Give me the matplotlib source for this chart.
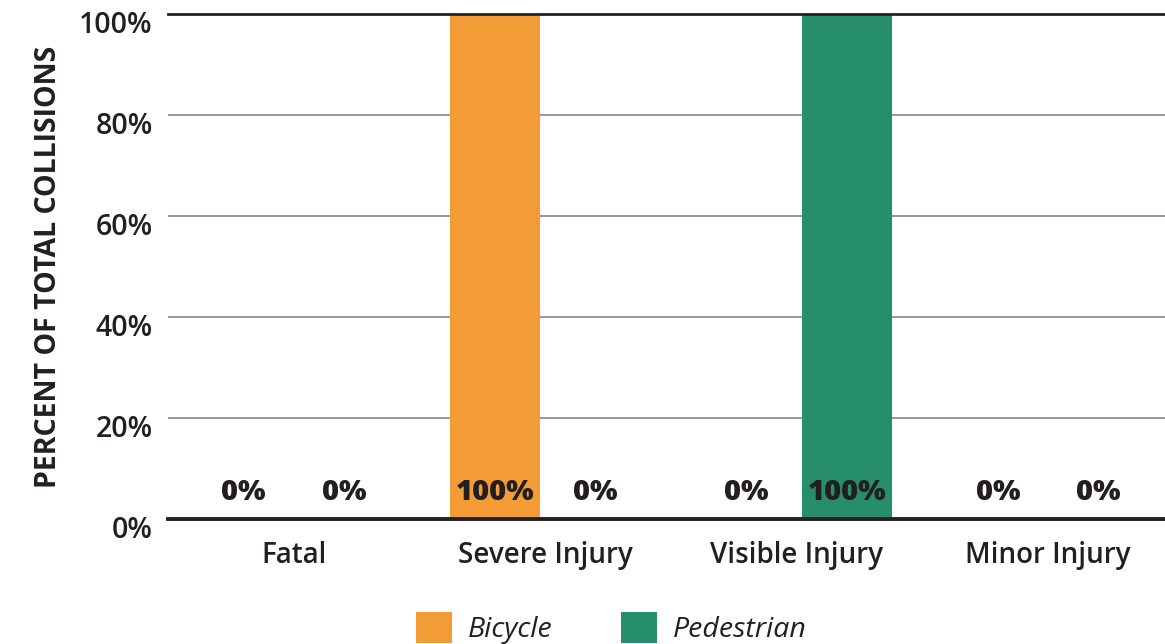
"""Collision severity by mode, percent of total collisions."""
import matplotlib
matplotlib.use("Agg")
import matplotlib.pyplot as plt
from matplotlib.transforms import ScaledTranslation
import numpy as np

categories = ["Fatal", "Severe Injury", "Visible Injury", "Minor Injury"]
bicycle = [0, 100, 0, 0]
pedestrian = [0, 0, 100, 0]
yticks = [0, 20, 40, 60, 80, 100]

ORANGE = "#F39B36"
GREEN = "#268E6A"
TEXT = "#231F20"

plt.rcParams["font.family"] = ["Open Sans", "DejaVu Sans"]

fig = plt.figure(figsize=(11.65, 6.44), dpi=100)
ax = fig.add_axes([168 / 1165, 1 - 519 / 644, 1006 / 1165, 505 / 644])

x = np.arange(len(categories))
offset, width = 0.2, 0.36
b1 = ax.bar(x - offset, bicycle, width, color=ORANGE, label="Bicycle")
b2 = ax.bar(x + offset, pedestrian, width, color=GREEN, label="Pedestrian")

label_y = 5.2
for xi, v in zip(x - offset, bicycle):
    ax.text(xi, label_y, f"{v}%", ha="center", va="center",
            fontsize=21, fontweight="heavy", color=TEXT)
for xi, v in zip(x + offset, pedestrian):
    ax.text(xi, label_y, f"{v}%", ha="center", va="center",
            fontsize=21, fontweight="heavy", color=TEXT)

ax.set_xlim(-0.5, len(categories) - 0.5)
ax.set_ylim(0, 100)
ax.set_xticks(x)
ax.set_xticklabels(categories, fontsize=20, fontweight="semibold", color=TEXT)
ax.set_yticks(yticks)
ax.set_yticklabels([f"{t}%" for t in yticks], fontsize=20.5,
                   fontweight="semibold", color=TEXT)
ax.tick_params(axis="both", length=0)
ax.tick_params(axis="x", pad=16)
ax.tick_params(axis="y", pad=11)
for lab in ax.get_yticklabels():
    lab.set_transform(lab.get_transform()
                      + ScaledTranslation(0, -8 / 100, fig.dpi_scale_trans))

ax.yaxis.grid(True, color="#7a7a7a", linewidth=1.1)
ax.set_axisbelow(True)
for side in ["left", "right"]:
    ax.spines[side].set_visible(False)
ax.spines["top"].set_color("#222222")
ax.spines["top"].set_linewidth(2)
ax.spines["bottom"].set_color("#222222")
ax.spines["bottom"].set_linewidth(2.8)

ax.set_ylabel("PERCENT OF TOTAL COLLISIONS", fontsize=20.5, fontweight="bold",
              color=TEXT)
ax.yaxis.set_label_coords(-0.104, 0.5)

fig.legend(handles=[b1, b2], loc="upper center",
           bbox_to_anchor=(611 / 1165, 1 - 598 / 644), ncol=2, frameon=False,
           prop={"size": 20.5, "style": "italic"}, labelcolor=TEXT,
           handlelength=1.27, handleheight=1.27, handletextpad=0.55,
           columnspacing=2.4, borderpad=0)

fig.savefig("out.png", dpi=100)
